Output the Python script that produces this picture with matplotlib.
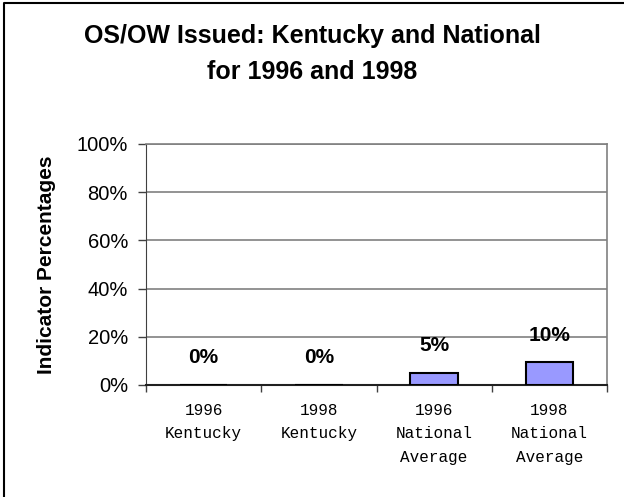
import matplotlib.pyplot as plt
from matplotlib.lines import Line2D

categories = ['1996\nKentucky', '1998\nKentucky', '1996\nNational\nAverage', '1998\nNational\nAverage']
values = [0, 0, 5, 9.5]
yticks = [0, 20, 40, 60, 80, 100]

fig = plt.figure(figsize=(6.24, 4.97), dpi=100)
ax = fig.add_axes([146/624, 1 - 385/497, 461/624, 241/497])

x = range(len(categories))
ax.bar(x, values, width=0.41, color='#9999FF', edgecolor='black', linewidth=1.5, zorder=3)

for xi, v in zip(x, values):
    ax.annotate('{:.0f}%'.format(v), (xi, v), xytext=(0, 19.5), textcoords='offset points',
                ha='center', va='center', fontsize=15, fontweight='bold',
                family='Liberation Sans')

ax.set_xlim(-0.5, len(categories) - 0.5)
ax.set_ylim(0, 100)
ax.set_yticks(yticks)
ax.set_yticklabels(['{}%'.format(t) for t in yticks], family='Liberation Sans', fontsize=14.5)
ax.yaxis.grid(True, color='#808080', linewidth=1.2, zorder=0)

ax.set_xticks(list(x))
ax.set_xticklabels(categories, family='Liberation Mono', fontsize=11.5, linespacing=1.7, va='top')
ax.set_xticks([i + 0.5 for i in range(-1, len(categories))], minor=True)
ax.tick_params(axis='x', which='major', length=0, pad=13)
ax.tick_params(axis='x', which='minor', length=5, width=1, color='#404040')
ax.tick_params(axis='y', length=6, width=1, color='#404040', pad=7)

for side in ['top', 'right']:
    ax.spines[side].set_color('#808080')
    ax.spines[side].set_linewidth(1.2)
ax.spines['left'].set_color('#404040')
ax.spines['bottom'].set_color('#202020')
ax.spines['bottom'].set_linewidth(1.5)

ax.set_ylabel('Indicator Percentages', family='Liberation Sans', fontsize=15,
              fontweight='bold', labelpad=15)

fig.text(0.5, 1 - 54/497, 'OS/OW Issued: Kentucky and National\nfor 1996 and 1998',
         ha='center', va='center', fontsize=18, fontweight='bold',
         family='Liberation Sans', linespacing=1.6)

# frame around the chart (only top and left are inside the crop)
fig.add_artist(Line2D([4/624, 4/624, 1], [0, 1 - 3/497, 1 - 3/497],
                      transform=fig.transFigure, color='black', linewidth=1.5))

fig.savefig('out.png', dpi=100)
